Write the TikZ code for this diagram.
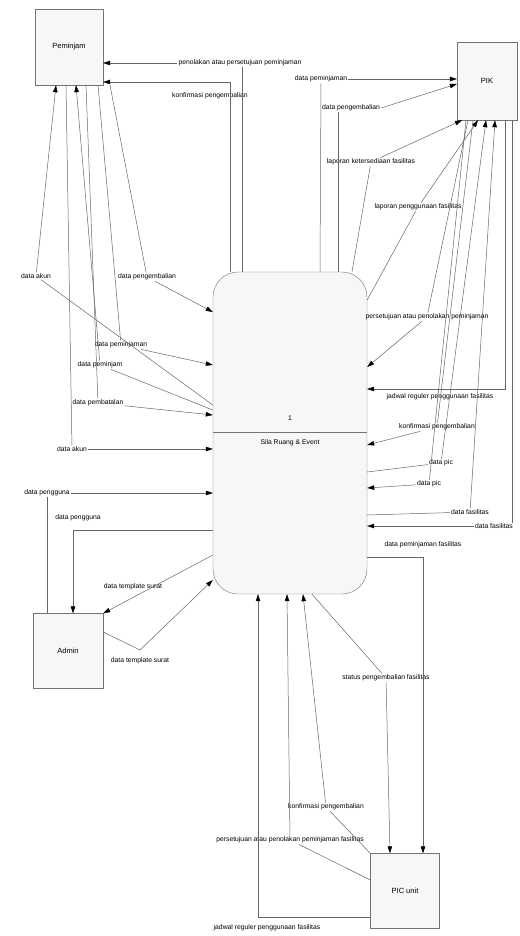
\documentclass[tikz,border=0pt]{standalone}
\usepackage{fontspec}
\setmainfont{Liberation Sans}
\usetikzlibrary{arrows.meta}
\begin{document}
\begin{tikzpicture}[x=1pt,y=-1pt,
 ent/.style={draw=black!55, fill=black!3, minimum width=68pt, minimum height=76pt, inner sep=0pt, font=\fontsize{7.5}{9}\selectfont},
 lbl/.style={inner sep=1pt, font=\fontsize{6.8}{8}\selectfont, text=black},
 ln/.style={draw=black!60, line width=0.5pt},
 flow/.style={ln, -{Triangle[length=7pt,width=4.5pt,color=black]}},
]
\useasboundingbox (0,0) rectangle (519,936);
\fill[white] (0,0) rectangle (519,936);

% entities and process
\node[ent] (pem) at (69,47) {Peminjam};
\node[ent, minimum width=60pt, minimum height=78pt] (pik) at (487,81) {PIK};
\node[ent, minimum width=70pt, minimum height=75pt] (adm) at (68,651) {Admin};
\node[ent, minimum width=69pt, minimum height=75pt] (pic) at (405,891) {PIC unit};
\node[draw=black!55, fill=black!3, rounded corners=25pt, minimum width=154pt, minimum height=322pt] (proc) at (290,433) {};
\draw[draw=black!55, line width=0.6pt] (proc.west |- 0,432) -- (proc.east |- 0,432);
\node[lbl] (pnum) at (290,418) {1};
\node[lbl] (pname) at (290,443) {Sila Ruang \& Event};

% labels
\node[lbl] (l1) at (240,63) {penolakan atau persetujuan peminjaman};
\node[lbl] (l2) at (210,96) {konfirmasi pengembalian};
\node[lbl] (l3) at (321,79) {data peminjaman};
\node[lbl] (l4) at (351,108) {data pengembalian};
\node[lbl] (l5) at (371,162) {laporan ketersediaan fasilitas};
\node[lbl] (l6) at (418,207) {laporan penggunaan fasilitas};
\node[lbl] (l7) at (427,317) {persetujuan atau penolakan peminjaman};
\node[lbl] (l8) at (440,397) {jadwal reguler penggunaan fasilitas};
\node[lbl] (l9) at (437,427) {konfirmasi pengembalian};
\node[lbl] (l10) at (441,463) {data pic};
\node[lbl] (l11) at (429,484) {data pic};
\node[lbl] (l12) at (470,512) {data fasilitas};
\node[lbl] (l14) at (423,545) {data peminjaman fasilitas};
\node[lbl] (l15) at (386,678) {status pengembalian fasilitas};
\node[lbl] (l16) at (326,807) {konfirmasi pengembalian};
\node[lbl] (l17) at (290,840) {persetujuan atau penolakan peminjaman fasilitas};
\node[lbl] (l18) at (267,928) {jadwal reguler penggunaan fasilitas};
\node[lbl] (l19) at (36,276) {data akun};
\node[lbl] (l20) at (147,277) {data pengembalian};
\node[lbl] (l21) at (121,345) {data peminjaman};
\node[lbl] (l22) at (100,365) {data peminjam};
\node[lbl] (l23) at (98,403) {data pembatalan};
\node[lbl] (l24) at (72,449) {data akun};
\node[lbl] (l25) at (47,493) {data pengguna};
\node[lbl] (l26) at (78,518) {data pengguna};
\node[lbl] (l27) at (133,587) {data template surat};
\node[lbl] (l28) at (140,661) {data template surat};

% top flows
\draw[ln] (proc.north -| 242,0) -- (l1.south -| 242,0);
\draw[flow] (l1) -- (pem.east |- l1);
\draw[flow] (proc.north -| 230,0) -- (230,82) -- (pem.east |- 0,82);
\draw[ln] (proc.north -| 320,0) -- (l3);
\draw[flow] (l3) -- (pik.west |- l3);
\draw[ln] (proc.north -| 338,0) -- (l4.south -| 338,0);
\draw[flow] (l4.east) -- (pik.west |- 0,84);
\draw[ln] (proc.north -| 352,0) -- (l5);
\draw[flow] (l5) -- (pik.south -| 462,0);
\draw[ln] (proc.east |- 0,300) -- (l6);
\draw[flow] (l6) -- (pik.south -| 478,0);

% right flows
\draw[ln] (pik.south -| 468,0) -- (l7);
\draw[flow] (l7) -- (proc.east |- 0,367);
\draw[flow] (pik.south -| 505,0) -- (505,389) -- (proc.east |- 0,389);
\draw[ln] (pik.south -| 473,0) -- (l9);
\draw[flow] (l9) -- (proc.east |- 0,445);
\draw[ln] (proc.east |- 0,472) -- (l10);
\draw[flow] (l10) -- (pik.south -| 486,0);
\draw[ln] (pik.south -| 466,0) -- (l11);
\draw[flow] (l11) -- (proc.east |- 0,488);
\draw[ln] (proc.east |- 0,515) -- (l12);
\draw[flow] (l12) -- (pik.south -| 495,0);
\draw[flow] (pik.south -| 512,0) -- (512,526) -- (proc.east |- 0,526);
\node[lbl, fill=white] (l13) at (494,526) {data fasilitas};
\draw[flow] (proc.east |- 0,557) -- (423,557) -- (pic.north -| 423,0);

% bottom flows
\draw[ln] (proc.south -| 312,0) -- (l15);
\draw[flow] (l15) -- (pic.north -| 390,0);
\draw[ln] (pic.north west) -- (l16);
\draw[flow] (l16) -- (proc.south -| 303,0);
\draw[ln] (pic.west |- 0,880) -- (l17);
\draw[flow] (l17) -- (proc.south -| 287,0);
\draw[flow] (pic.west |- 0,917) -- (258,917) -- (proc.south -| 258,0);

% left flows
\draw[ln] (proc.west |- 0,405) -- (l19);
\draw[flow] (l19) -- (pem.south -| 56,0);
\draw[ln] (pem.south -| 110,0) -- (l20);
\draw[flow] (l20) -- (proc.west |- 0,312);
\draw[ln] (pem.south -| 98,0) -- (l21);
\draw[flow] (l21) -- (proc.west |- 0,365);
\draw[ln] (proc.west |- 0,410) -- (l22);
\draw[flow] (l22) -- (pem.south -| 76,0);
\draw[ln] (pem.south -| 86,0) -- (l23);
\draw[flow] (l23) -- (proc.west |- 0,415);
\draw[ln] (pem.south -| 66,0) -- (l24);
\draw[flow] (l24) -- (proc.west |- 0,449);

% admin flows
\draw[ln] (adm.north -| 47,0) -- (l25);
\draw[flow] (l25) -- (proc.west |- 0,493);
\draw[flow] (proc.west |- 0,530) -- (73,530) -- (adm.north -| 73,0);
\draw[flow] (proc.west |- 0,555) -- (adm.north east);
\draw[flow] (adm.east |- 0,632) -- (140,650) -- (proc.west |- 0,580);
\end{tikzpicture}
\end{document}
